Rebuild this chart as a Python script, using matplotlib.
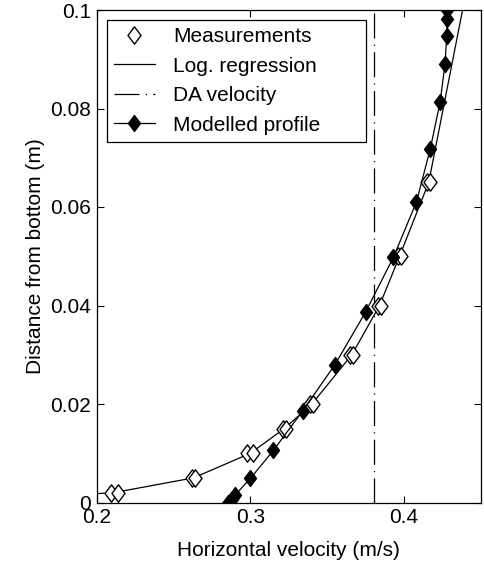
import numpy as np
import matplotlib
matplotlib.use('Agg')
import matplotlib.pyplot as plt
from matplotlib.path import Path

plt.rcParams['font.family'] = ['Liberation Sans', 'DejaVu Sans']

# ——— DATA ———
# measurements (pairs of repeated readings)
meas_u = [0.209, 0.214, 0.262, 0.264, 0.298, 0.302, 0.321, 0.323, 0.339, 0.341,
          0.365, 0.367, 0.383, 0.385, 0.396, 0.398, 0.415, 0.417]
meas_z = [0.002, 0.002, 0.005, 0.005, 0.010, 0.010, 0.015, 0.015, 0.020, 0.020,
          0.030, 0.030, 0.040, 0.040, 0.050, 0.050, 0.065, 0.065]

# log regression through the measurements
reg_u = [0.200, 0.211, 0.263, 0.300, 0.322, 0.340, 0.366, 0.384, 0.397, 0.416, 0.438]
reg_z = [0.0018, 0.002, 0.005, 0.010, 0.015, 0.020, 0.030, 0.040, 0.050, 0.065, 0.100]

# depth-averaged velocity
da_u = 0.3805

# modelled profile
mod_u = [0.2857, 0.288, 0.290, 0.300, 0.315, 0.334, 0.355, 0.375, 0.393,
         0.408, 0.417, 0.4234, 0.4266, 0.4277, 0.428, 0.428]
mod_z = [0.0, 0.0008, 0.0015, 0.0049, 0.0106, 0.0186, 0.028, 0.0387, 0.0498,
         0.061, 0.0718, 0.0813, 0.0891, 0.0948, 0.0982, 0.1]

xticks = [0.2, 0.3, 0.4]
xticklabels = ['0.2', '0.3', '0.4']
yticks = [0, 0.02, 0.04, 0.06, 0.08, 0.1]
yticklabels = ['0', '0.02', '0.04', '0.06', '0.08', '0.1']

# MATLAB-like thin diamond
diamond = Path([(0, 1), (0.75, 0), (0, -1), (-0.75, 0), (0, 1)],
               [Path.MOVETO, Path.LINETO, Path.LINETO, Path.LINETO, Path.CLOSEPOLY])

# ——— PLOT ———
fig = plt.figure(figsize=(4.84, 5.66), dpi=100)
ax = fig.add_axes([96.7 / 484, 1 - 502.5 / 566, (481 - 96.7) / 484, (502.5 - 10) / 566])

ax.plot(meas_u, meas_z, linestyle='none', marker=diamond, ms=12.5,
        mfc='white', mec='black', mew=1.0, label='Measurements', zorder=3)
ax.plot(reg_u, reg_z, color='black', lw=0.9, label='Log. regression', zorder=2)
ax.axvline(da_u, color='black', lw=0.9, linestyle=(0, (20, 5, 1, 5)),
           label='DA velocity', zorder=1)
ax.plot(mod_u, mod_z, color='black', lw=0.9, marker=diamond, ms=11.5,
        mfc='black', mec='black', label='Modelled profile', zorder=4)

ax.set_xlim(0.2, 0.45)
ax.set_ylim(0, 0.1)
ax.set_xticks(xticks)
ax.set_xticklabels(xticklabels)
ax.set_yticks(yticks)
ax.set_yticklabels(yticklabels)
ax.tick_params(direction='in', top=True, right=True, length=5, width=0.8,
               labelsize=15, pad=4)
for sp in ax.spines.values():
    sp.set_linewidth(0.9)

ax.set_xlabel('Horizontal velocity (m/s)', fontsize=15, labelpad=10)
ax.set_ylabel('Distance from bottom (m)', fontsize=15, labelpad=4)

# legend box stretched like the MATLAB one
leg = ax.legend(loc='upper left', bbox_to_anchor=(0.026, 0.0, 0.675, 0.9797),
                mode='expand', fontsize=15,
                frameon=True, fancybox=False, edgecolor='black', framealpha=1,
                borderpad=0.35, labelspacing=0.5, handlelength=1.95,
                handletextpad=0.9, borderaxespad=0)
leg.get_frame().set_linewidth(0.9)

fig.savefig('out.png', dpi=100)
